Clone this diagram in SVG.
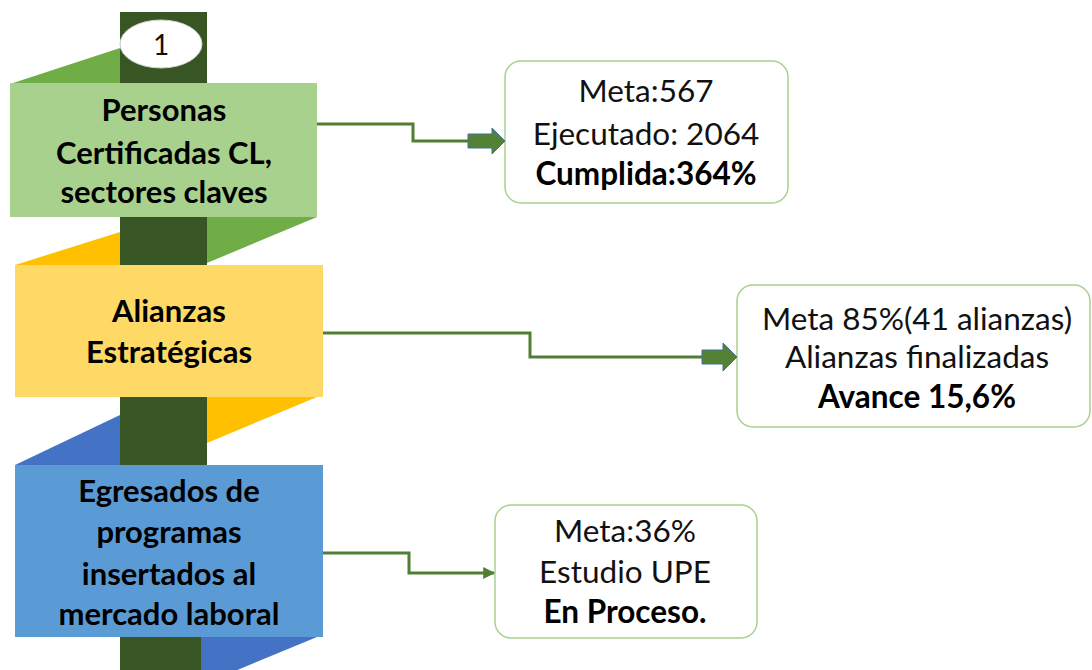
<svg xmlns="http://www.w3.org/2000/svg" width="1092" height="670" viewBox="0 0 1092 670">
<style>
.lt{font-family:Lato,"Liberation Sans",sans-serif;font-weight:bold;font-size:31px;fill:#000;text-anchor:middle}
.rt{font-family:Lato,"Liberation Sans",sans-serif;font-size:31.5px;fill:#111;text-anchor:middle}
.b{font-weight:bold;fill:#000}
.res{fill:#fff;stroke:#A9D18E;stroke-width:1.5}
.conn{fill:none;stroke:#507E32;stroke-width:3}
.barrow{fill:#548235;stroke:#41719C;stroke-width:1}
</style>
<defs>
<marker id="ah" viewBox="0 0 10 10" refX="9" refY="5" markerWidth="4" markerHeight="4" orient="auto" markerUnits="strokeWidth">
<path d="M0,0 L10,5 L0,10 z" fill="#507E32"/>
</marker>
</defs>
<rect width="1092" height="670" fill="#fff"/>
<g id="spine">
<polygon points="10,84 120,48 120,84" fill="#70AD47"/>
<polygon points="15,265 120,232 120,265" fill="#FFC000"/>
<polygon points="15,465 120,415 120,465" fill="#4472C4"/>
<rect x="120" y="12" width="87" height="658" fill="#375623"/>
<polygon points="207,217 317,217 207,263" fill="#70AD47"/>
<polygon points="207,397 317,397 207,443" fill="#FFC000"/>
<polygon points="201,637 317,637 201,685" fill="#4472C4"/>
<ellipse cx="161" cy="44" rx="41" ry="24" fill="#fff" stroke="#d0d0d0" stroke-width="1"/>
<text x="161" y="55" class="rt" style="font-size:28px">1</text>
</g>
<g id="node-personas">
<rect x="10" y="83" width="307" height="134" fill="#A9D18E"/>
<text class="lt" x="164" y="121">Personas</text>
<text class="lt" x="164" y="164">Certificadas CL,</text>
<text class="lt" x="164" y="203">sectores claves</text>
</g>
<g id="node-alianzas">
<rect x="15" y="265" width="308" height="132" fill="#FFD966"/>
<text class="lt" x="169" y="322">Alianzas</text>
<text class="lt" x="169" y="363">Estratégicas</text>
</g>
<g id="node-egresados">
<rect x="15" y="465" width="308" height="172" fill="#5B9BD5"/>
<text class="lt" x="169" y="502">Egresados de</text>
<text class="lt" x="169" y="543">programas</text>
<text class="lt" x="169" y="585">insertados al</text>
<text class="lt" x="169" y="625">mercado laboral</text>
</g>
<g id="node-res1">
<rect class="res" x="505" y="61" width="283" height="142" rx="16"/>
<text class="rt" x="646" y="102">Meta:567</text>
<text class="rt" x="646" y="145">Ejecutado: 2064</text>
<text class="rt b" x="646" y="185">Cumplida:364%</text>
</g>
<g id="node-res2">
<rect class="res" x="737" y="285" width="353" height="142" rx="16"/>
<text class="rt" x="917" y="330">Meta 85%(41 alianzas)</text>
<text class="rt" x="917" y="368">Alianzas finalizadas</text>
<text class="rt b" x="917" y="408">Avance 15,6%</text>
</g>
<g id="node-res3">
<rect class="res" x="495" y="505" width="262" height="133" rx="16"/>
<text class="rt" x="625" y="542">Meta:36%</text>
<text class="rt" x="625" y="583">Estudio UPE</text>
<text class="rt b" x="625" y="623">En Proceso.</text>
</g>
<g id="connectors">
<path class="conn" d="M317,124 H413 V141 H469"/>
<polygon class="barrow" points="468,134 492,134 492,128 505,141 492,154 492,148 468,148"/>
<path class="conn" d="M323,333 H530 V357 H703"/>
<polygon class="barrow" points="702,350 723,350 723,343 737,357 723,371 723,364 702,364"/>
<path class="conn" d="M323,553 H409 V573 H494" marker-end="url(#ah)"/>
</g>
</svg>
